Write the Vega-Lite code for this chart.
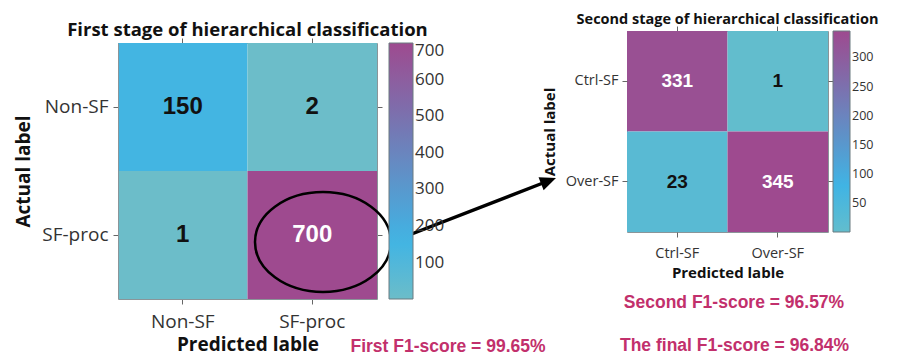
{
  "$schema": "https://vega.github.io/schema/vega-lite/v6.json",
  "background": "white",
  "padding": {"left": 14, "top": 11, "right": 0, "bottom": 0},
  "spacing": -15,
  "bounds": "full",
  "resolve": {"scale": {"color": "independent"}},
  "config": {
    "view": {"stroke": "#8a9599", "strokeWidth": 1},
    "axis": {"domain": false, "grid": false, "tickColor": "#666", "tickWidth": 1, "labelColor": "#333", "titleColor": "#111", "labelFont": "Open Sans", "titleFont": "Open Sans", "titleFontWeight": "bold", "labelAngle": 0, "domainColor": "#8a9599", "domainWidth": 1},
    "legend": {"labelFont": "Open Sans", "labelColor": "#333", "gradientStrokeColor": "#6a7a80", "gradientStrokeWidth": 1, "labelBaseline": "middle", "labelOffset": 4, "direction": "vertical", "orient": "right"}
  },
  "hconcat": [
    {
      "width": 259,
      "height": 268,
      "view": {"stroke": null},
      "title": {"text": "First stage of hierarchical classification", "fontSize": 18.5, "font": "Open Sans", "fontWeight": "bold", "color": "#111", "offset": -8, "anchor": "middle"},
      "resolve": {"axis": {"x": "independent", "y": "independent"}},
      "layer": [
        {
          "data": {"values": [
            {"actual": "Non-SF", "predicted": "Non-SF", "count": 150},
            {"actual": "Non-SF", "predicted": "SF-proc", "count": 2},
            {"actual": "SF-proc", "predicted": "Non-SF", "count": 1},
            {"actual": "SF-proc", "predicted": "SF-proc", "count": 700}
          ]},
          "layer": [
            {
              "mark": {"type": "rect"},
              "encoding": {
                "x": {"field": "predicted", "type": "nominal", "sort": ["Non-SF", "SF-proc"], "scale": {"paddingInner": 0, "paddingOuter": 0}, "axis": {"orient": "bottom", "domain": true, "title": "Predicted lable", "labelFontSize": 19, "titleFontSize": 19, "tickSize": 5, "labelPadding": 8, "titlePadding": 4}},
                "y": {"field": "actual", "type": "nominal", "sort": ["Non-SF", "SF-proc"], "scale": {"paddingInner": 0, "paddingOuter": 0, "range": [12, 268]}, "axis": {"orient": "left", "domain": true, "title": "Actual label", "labelFontSize": 19, "titleFontSize": 19, "tickSize": 5, "labelPadding": 5, "titlePadding": 8}},
                "color": {"field": "count", "type": "quantitative", "scale": {"domain": [1, 160, 700], "range": ["#6cbdc9", "#40b4e4", "#9e4a8f"], "interpolate": "rgb"}, "legend": {"title": null, "gradientLength": 256, "gradientThickness": 24, "labelFontSize": 17, "values": [100, 200, 300, 400, 500, 600, 700], "padding": 12, "offset": -6}}
              }
            },
            {
              "mark": {"type": "text", "font": "Liberation Sans", "fontWeight": "bold", "fontSize": 24},
              "encoding": {
                "x": {"field": "predicted", "type": "nominal", "sort": ["Non-SF", "SF-proc"], "axis": {"orient": "top", "domain": true, "offset": -12, "labels": false, "title": null, "tickSize": 5}},
                "y": {"field": "actual", "type": "nominal", "sort": ["Non-SF", "SF-proc"], "axis": {"orient": "right", "domain": true, "labels": false, "title": null, "tickSize": 5}},
                "text": {"field": "count", "type": "quantitative"},
                "color": {"condition": {"test": "datum.count > 300", "value": "white"}, "value": "#111"}
              }
            }
          ]
        },
        {
          "data": {"values": [{"annotation": "circled cell"}]},
          "mark": {"type": "point", "shape": "M 143.5 77 A 68 50 0 1 1 7.5 77 A 68 50 0 1 1 143.5 77 Z", "size": 4, "filled": false, "stroke": "black", "strokeWidth": 2.5, "opacity": 1},
          "encoding": {}
        },
        {
          "data": {"values": [{"annotation": "arrow"}]},
          "mark": {"type": "point", "shape": "M 142.89 75.42 L 292.97 17.21 L 291.05 12.26 L 308.5 13 L 296.11 25.32 L 294.2 20.37 L 144.12 78.59 Z", "size": 4, "filled": true, "fill": "black", "strokeWidth": 0, "opacity": 1},
          "encoding": {}
        },
        {
          "data": {"values": [{"label": "First F1-score = 99.65%"}]},
          "mark": {"type": "text", "font": "Liberation Sans", "fontWeight": "bold", "fontSize": 17.5, "color": "#c2306c", "align": "center", "baseline": "alphabetic", "dx": 200.5, "dy": 187},
          "encoding": {"text": {"field": "label"}}
        }
      ]
    },
    {
      "width": 201,
      "height": 201,
      "title": {"text": "Second stage of hierarchical classification", "fontSize": 14.5, "font": "Open Sans", "fontWeight": "bold", "color": "#111", "offset": -2, "anchor": "middle"},
      "resolve": {"axis": {"x": "independent", "y": "independent"}},
      "layer": [
        {
          "data": {"values": [
            {"actual": "Ctrl-SF", "predicted": "Ctrl-SF", "count": 331},
            {"actual": "Ctrl-SF", "predicted": "Over-SF", "count": 1},
            {"actual": "Over-SF", "predicted": "Ctrl-SF", "count": 23},
            {"actual": "Over-SF", "predicted": "Over-SF", "count": 345}
          ]},
          "layer": [
            {
              "mark": {"type": "rect"},
              "encoding": {
                "x": {"field": "predicted", "type": "nominal", "sort": ["Ctrl-SF", "Over-SF"], "scale": {"paddingInner": 0, "paddingOuter": 0}, "axis": {"orient": "bottom", "title": "Predicted lable", "labelFontSize": 14.5, "titleFontSize": 15, "tickSize": 5, "labelPadding": 9, "titlePadding": 6}},
                "y": {"field": "actual", "type": "nominal", "sort": ["Ctrl-SF", "Over-SF"], "scale": {"paddingInner": 0, "paddingOuter": 0}, "axis": {"orient": "left", "title": "Actual label", "labelFontSize": 14.5, "titleFontSize": 15, "tickSize": 5, "labelPadding": 4, "titlePadding": 8}},
                "color": {"field": "count", "type": "quantitative", "scale": {"domain": [1, 80, 345], "range": ["#62bdcd", "#40b4e4", "#9e4a8f"], "interpolate": "rgb"}, "legend": {"title": null, "gradientLength": 201, "gradientThickness": 17, "labelFontSize": 12.5, "values": [50, 100, 150, 200, 250, 300], "offset": -1}}
              }
            },
            {
              "mark": {"type": "text", "font": "Liberation Sans", "fontWeight": "bold", "fontSize": 19},
              "encoding": {
                "x": {"field": "predicted", "type": "nominal", "sort": ["Ctrl-SF", "Over-SF"], "axis": {"orient": "top", "labels": false, "title": null, "tickSize": 5}},
                "y": {"field": "actual", "type": "nominal", "sort": ["Ctrl-SF", "Over-SF"], "axis": {"orient": "right", "labels": false, "title": null, "tickSize": 5}},
                "text": {"field": "count", "type": "quantitative"},
                "color": {"condition": {"test": "datum.count > 300", "value": "white"}, "value": "#111"}
              }
            }
          ]
        },
        {
          "data": {"values": [{"label": "Second F1-score = 96.57%"}]},
          "mark": {"type": "text", "font": "Liberation Sans", "fontWeight": "bold", "fontSize": 17.5, "color": "#c2306c", "align": "center", "baseline": "alphabetic", "dx": 6.5, "dy": 176.5},
          "encoding": {"text": {"field": "label"}}
        },
        {
          "data": {"values": [{"label": "The final F1-score = 96.84%"}]},
          "mark": {"type": "text", "font": "Liberation Sans", "fontWeight": "bold", "fontSize": 17.5, "color": "#c2306c", "align": "center", "baseline": "alphabetic", "dx": 7, "dy": 219.5},
          "encoding": {"text": {"field": "label"}}
        }
      ]
    }
  ]
}
